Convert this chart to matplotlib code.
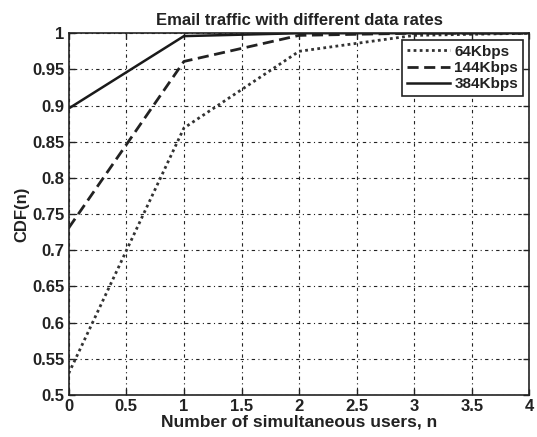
import matplotlib
matplotlib.use("Agg")
import matplotlib.pyplot as plt

plt.rcParams['font.family'] = ['Liberation Sans', 'DejaVu Sans']
plt.rcParams['font.weight'] = 'bold'

# --------- data ---------
users = [0, 1, 2, 3, 4]
cdf_64 = [0.53, 0.869, 0.975, 0.997, 1.0]
cdf_144 = [0.731, 0.961, 0.997, 1.0, 1.0]
cdf_384 = [0.896, 0.996, 1.0, 1.0, 1.0]
labels = ["64Kbps", "144Kbps", "384Kbps"]

fig = plt.figure(figsize=(5.37, 4.37), dpi=100)
ax = fig.add_axes([0.128, 0.096, 0.858, 0.828])

ax.plot(users, cdf_64, color="#333333", linestyle=(0, (1, 1.2)), lw=2.0, label=labels[0])
ax.plot(users, cdf_144, color="#222222", linestyle=(0, (4, 2)), lw=2.0, label=labels[1])
ax.plot(users, cdf_384, color="#1a1a1a", linestyle="-", lw=1.8, label=labels[2])

ax.set_xlim(0, 4)
ax.set_ylim(0.5, 1)
ax.set_xticks([0, 0.5, 1, 1.5, 2, 2.5, 3, 3.5, 4])
ax.set_xticklabels(["0", "0.5", "1", "1.5", "2", "2.5", "3", "3.5", "4"])
ax.set_yticks([0.5, 0.55, 0.6, 0.65, 0.7, 0.75, 0.8, 0.85, 0.9, 0.95, 1])
ax.set_yticklabels(["0.5", "0.55", "0.6", "0.65", "0.7", "0.75", "0.8",
                    "0.85", "0.9", "0.95", "1"])
ax.tick_params(direction="in", top=True, right=True, labelsize=12,
               length=4, width=1, colors="#222222", pad=3)
ax.grid(True, color="#222222", linestyle=(0, (1, 3, 3, 3)), lw=0.8)
for s in ax.spines.values():
    s.set_linewidth(1.2)
    s.set_color("#222222")

ax.set_title("Email traffic with different data rates", fontsize=12,
             fontweight="bold", color="#222222", pad=6)
ax.set_xlabel("Number of simultaneous users, n", fontsize=12.5,
              fontweight="bold", color="#222222", labelpad=0)
ax.set_ylabel("CDF(n)", fontsize=12, fontweight="bold", color="#222222", labelpad=2)

leg = ax.legend(loc="upper right", fontsize=11, fancybox=False, framealpha=1,
                edgecolor="#222222", handlelength=2.8, handletextpad=0.3,
                borderpad=0.3, labelspacing=0.15, borderaxespad=0.45)
leg.get_frame().set_linewidth(1.2)
for t in leg.get_texts():
    t.set_color("#222222")

fig.savefig("out.png", dpi=100)
